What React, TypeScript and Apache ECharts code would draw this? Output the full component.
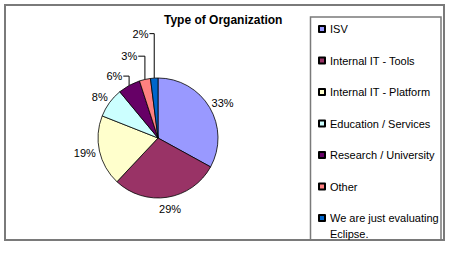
import React, { useEffect, useRef } from "react";
import * as echarts from "echarts";

const title = "Type of Organization";
const categories = [
  "ISV",
  "Internal IT - Tools",
  "Internal IT - Platform",
  "Education / Services",
  "Research / University",
  "Other",
  "We are just evaluating Eclipse.",
];
const values = [33, 29, 19, 8, 6, 3, 2];
const colors = ["#9999FF", "#993366", "#FFFFCC", "#CCFFFF", "#660066", "#FF8080", "#0066CC"];

// layout / style constants
const CX = 158;
const CY = 138;
const R = 60;
const FONT = "'Liberation Sans', Arial, sans-serif";
// nudges (px) for labels that Excel moved with leader lines
const labelNudges: Record<number, [number, number]> = { 4: [-9, -1], 5: [-13, -14], 6: [-13, -35] };

const legendText = {
  fontFamily: FONT,
  fontSize: 11,
  lineHeight: 14,
  color: "#000",
  width: 112,
  overflow: "break",
};

export default function App() {
  const ref = useRef<HTMLDivElement>(null);
  useEffect(() => {
    document.body.style.margin = "0";
    const chart = echarts.init(ref.current!, null, { renderer: "svg" });
    const total = values.reduce((a, b) => a + b, 0);
    const cums: number[] = [];
    let acc = 0;
    values.forEach((v) => {
      cums.push(acc);
      acc += v;
    });

    const data = categories.map((name, i) => ({
      name,
      value: values[i],
      itemStyle: { color: colors[i] },
      labelLine: { show: labelNudges[i] !== undefined },
    }));

    const legendCommon = {
      orient: "vertical",
      left: 318,
      height: 600,
      padding: 0,
      itemWidth: 6,
      itemHeight: 6,
      itemGap: 17.5,
      icon: "rect",
      selectedMode: false,
    };

    chart.setOption({
      animation: false,
      backgroundColor: "#fff",
      title: {
        text: title,
        left: 164,
        top: 14,
        padding: 0,
        textStyle: { fontFamily: FONT, fontSize: 12, fontWeight: "bold", color: "#000" },
      },
      legend: [
        {
          ...legendCommon,
          top: 22,
          textStyle: legendText,
          data: categories.slice(0, categories.length - 1),
        },
        {
          ...legendCommon,
          top: 194,
          formatter: "\n{name}",
          textStyle: { ...legendText, lineHeight: 16 },
          data: categories.slice(categories.length - 1),
        },
      ],
      graphic: [
        {
          type: "rect",
          z: -1,
          shape: { x: 5, y: 5, width: 439, height: 235 },
          style: { fill: "none", stroke: "#7a7a7a", lineWidth: 2 },
        },
        {
          type: "rect",
          z: -1,
          shape: { x: 310.5, y: 17, width: 130.5, height: 223 },
          style: { fill: "none", stroke: "#7a7a7a", lineWidth: 1.5 },
        },
      ],
      series: [
        {
          type: "pie",
          center: [CX, CY],
          radius: R,
          startAngle: 90,
          clockwise: true,
          data,
          itemStyle: { borderColor: "#000", borderWidth: 0.8 },
          label: {
            show: true,
            position: "outside",
            formatter: "{d}%",
            fontFamily: FONT,
            fontSize: 11,
            color: "#000",
          },
          labelLine: {
            length: 4,
            length2: 2,
            lineStyle: { color: "#000", width: 1 },
          },
          labelLayout: (params: any) => {
            const i = params.dataIndex;
            const mid = ((90 - ((cums[i] + values[i] / 2) / total) * 360) * Math.PI) / 180;
            const dx = Math.cos(mid);
            const dy = -Math.sin(mid);
            const w = params.labelRect.width;
            const h = params.labelRect.height;
            const gap = i === 1 ? 6 : 4;
            let x = CX + dx * (R + gap) + (dx * w) / 2;
            let y = CY + dy * (R + gap) + (dy * h) / 2;
            const out: any = { align: "center", verticalAlign: "middle" };
            const n = labelNudges[i];
            if (n) {
              x += n[0];
              y += n[1];
              const px = CX + dx * R;
              const py = CY + dy * R;
              out.labelLinePoints = [
                [px, py],
                [px, y],
                [x + w / 2 + 1, y],
              ];
            }
            out.x = x;
            out.y = y;
            return out;
          },
        },
      ],
    });
    return () => chart.dispose();
  }, []);
  return <div ref={ref} style={{ width: 450, height: 268 }} />;
}
